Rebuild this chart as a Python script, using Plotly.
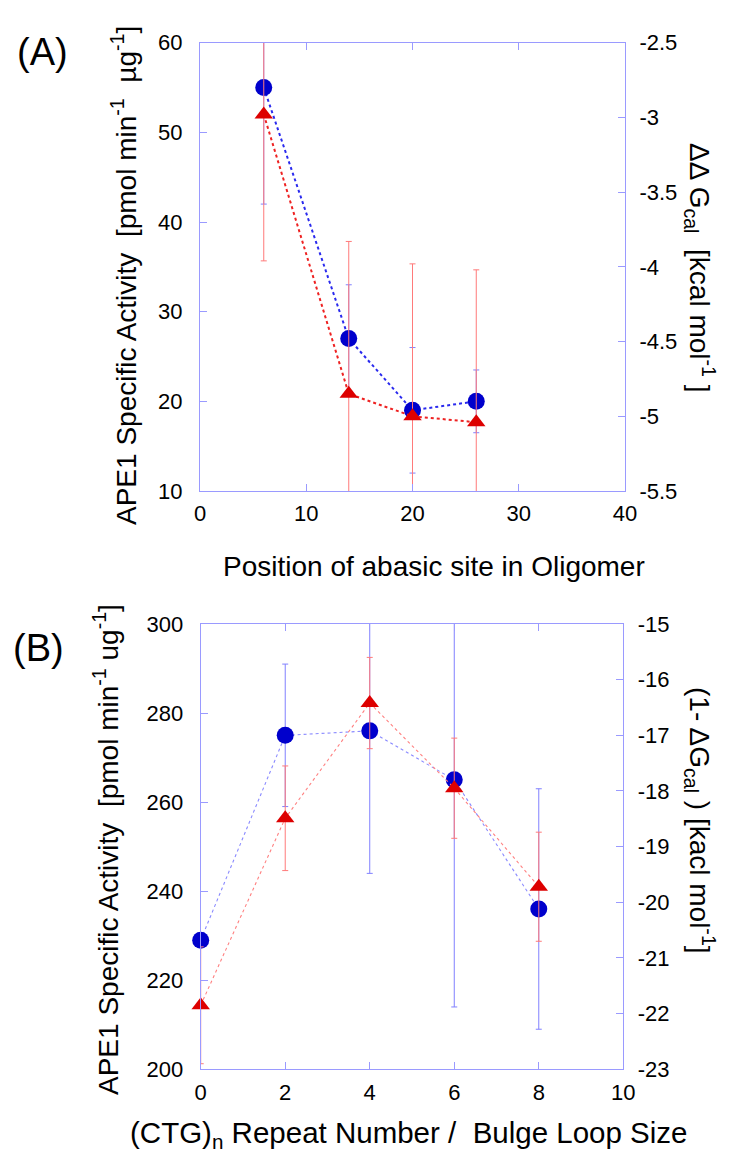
import plotly.graph_objects as go

# ---------------- Data ----------------
# Panel A: position of abasic site
pos_a = [6, 14, 20, 26]
blue_a = [55, 27, 19, 20]            # APE1 specific activity (left axis)
blue_a_err = [13, 6, 7, 3.5]
red_a = [-2.98, -4.85, -5.00, -5.04]  # ddG_cal (right axis, kcal/mol)
red_a_err = [0.98, 1.02, 1.02, 1.02]

# Panel B: (CTG)n repeat number / bulge loop size
pos_b = [0, 2, 4, 6, 8]
blue_b = [229, 275, 276, 265, 236]    # APE1 specific activity (left axis)
blue_b_err = [0, 16, 32, 51, 27]
red_b = [-21.85, -18.49, -16.42, -17.95, -19.72]  # (1-dG_cal) (right axis)
red_b_err = [1.05, 0.94, 0.82, 0.90, 0.98]

xticks_a = [0, 10, 20, 30, 40]
yticks_a = [10, 20, 30, 40, 50, 60]
y2ticks_a = [-2.5, -3, -3.5, -4, -4.5, -5, -5.5]
xticks_b = [0, 2, 4, 6, 8, 10]
yticks_b = [200, 220, 240, 260, 280, 300]
y2ticks_b = [-15, -16, -17, -18, -19, -20, -21, -22, -23]

W, H = 731, 1167
FONT = "Arial, Liberation Sans, Helvetica, sans-serif"
AX = "#9a9aff"
BLUE = "#0000cc"
RED = "#dd0000"

fig = go.Figure()

# Panel A traces
fig.add_trace(go.Scatter(
    x=pos_a, y=blue_a, xaxis="x", yaxis="y", mode="lines+markers",
    line=dict(color="#2a2aee", width=2, dash="dot"),
    marker=dict(symbol="circle", size=17, color=BLUE),
    error_y=dict(type="data", array=blue_a_err, color="#8080ff", thickness=1, width=3),
    cliponaxis=False, showlegend=False))
fig.add_trace(go.Scatter(
    x=pos_a, y=red_a, xaxis="x", yaxis="y2", mode="lines+markers",
    line=dict(color="#ee2222", width=2, dash="dot"),
    marker=dict(symbol="triangle-up", size=16, color=RED),
    error_y=dict(type="data", array=red_a_err, color="#ff7a7a", thickness=1, width=3),
    cliponaxis=False, showlegend=False))

# Panel B traces
fig.add_trace(go.Scatter(
    x=pos_b, y=blue_b, xaxis="x2", yaxis="y3", mode="lines+markers",
    line=dict(color="#8a8aff", width=1.1, dash="dot"),
    marker=dict(symbol="circle", size=17, color=BLUE),
    error_y=dict(type="data", array=blue_b_err, color="#8080ff", thickness=1, width=3),
    cliponaxis=False, showlegend=False))
fig.add_trace(go.Scatter(
    x=pos_b, y=red_b, xaxis="x2", yaxis="y4", mode="lines+markers",
    line=dict(color="#ff8080", width=1.1, dash="dot"),
    marker=dict(symbol="triangle-up", size=16, color=RED),
    error_y=dict(type="data", array=red_b_err, color="#ff7a7a", thickness=1, width=3),
    cliponaxis=False, showlegend=False))

tickfont = dict(family=FONT, size=22, color="black")
common = dict(showgrid=False, zeroline=False, showline=True, linecolor=AX, linewidth=1,
              ticks="inside", ticklen=7, tickcolor=AX, tickwidth=1, tickfont=tickfont,
              automargin=False)

def labels(vals):
    return [f"{v:g}" for v in vals]

dom_xa = [200 / W, 625 / W]
dom_ya = [1 - 491 / H, 1 - 42.7 / H]
dom_xb = [200.7 / W, 623.3 / W]
dom_yb = [1 - 1069.3 / H, 1 - 624 / H]

fig.update_layout(
    width=W, height=H, margin=dict(l=0, r=0, t=0, b=0, pad=0, autoexpand=False),
    paper_bgcolor="white", plot_bgcolor="white",
    font=dict(family=FONT, color="black"),
    xaxis=dict(domain=dom_xa, range=[0, 40], tickvals=xticks_a, ticktext=labels(xticks_a),
               anchor="y", mirror="ticks", ticklabelstandoff=3, **common),
    yaxis=dict(domain=dom_ya, range=[10, 60], tickvals=yticks_a, ticktext=labels(yticks_a),
               anchor="x", ticklabelstandoff=12, **common),
    yaxis2=dict(range=[-5.5, -2.5], tickvals=y2ticks_a, ticktext=labels(y2ticks_a),
                overlaying="y", side="right", anchor="x", ticklabelstandoff=9, **common),
    xaxis2=dict(domain=dom_xb, range=[0, 10], tickvals=xticks_b, ticktext=labels(xticks_b),
                anchor="y3", mirror="ticks", ticklabelstandoff=3, **common),
    yaxis3=dict(domain=dom_yb, range=[200, 300], tickvals=yticks_b, ticktext=labels(yticks_b),
                anchor="x2", ticklabelstandoff=12, **common),
    yaxis4=dict(range=[-23, -15], tickvals=y2ticks_b, ticktext=labels(y2ticks_b),
                overlaying="y3", side="right", anchor="x2", ticklabelstandoff=9, **common),
)

def ann(text, x, y, size, angle=0):
    fig.add_annotation(text=text, x=x / W, y=1 - y / H, xref="paper", yref="paper",
                       showarrow=False, textangle=angle, xanchor="center", yanchor="middle",
                       font=dict(family=FONT, size=size, color="black"))

ann("(A)", 42, 52, 38)
ann("(B)", 38, 648, 38)
ann("APE1 Specific Activity  [pmol min<sup>-1</sup>  µg<sup>-1</sup>]", 124, 276, 28, -90)
ann("APE1 Specific Activity  [pmol min<sup>-1</sup> ug<sup>-1</sup>]", 106, 850, 28, -90)
ann("ΔΔ G<sub>cal</sub>  [kcal mol<sup>-1</sup> ]", 700, 268, 28, 90)
ann("(1- ΔG<sub>cal</sub> ) [kacl mol<sup>-1</sup>]", 700, 820, 28, 90)
ann("Position of abasic site in Oligomer", 434, 566, 28)
ann("(CTG)<sub>n</sub> Repeat Number /  Bulge Loop Size", 408, 1134, 29.5)

fig.write_html("out.html", config={"displayModeBar": False},
               post_script="document.body.style.margin='0';document.body.style.padding='0';")
